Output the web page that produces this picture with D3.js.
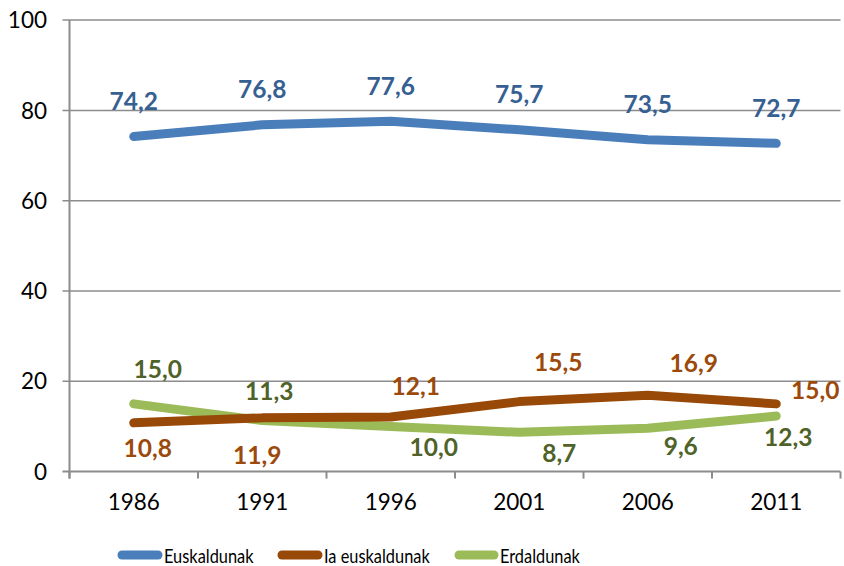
<!DOCTYPE html>
<html>
<head>
<meta charset="utf-8">
<script src="https://cdn.jsdelivr.net/npm/d3@7/dist/d3.min.js"></script>
<style>
  html, body { margin: 0; padding: 0; background: #fff; }
  svg { display: block; font-family: Lato, "Open Sans", sans-serif; }
</style>
</head>
<body>
<svg id="chart" width="844" height="566"></svg>
<script>
// ---- data ----
const years = ["1986", "1991", "1996", "2001", "2006", "2011"];
const euskaldunak = [74.2, 76.8, 77.6, 75.7, 73.5, 72.7];
const iaEuskaldunak = [10.8, 11.9, 12.1, 15.5, 16.9, 15.0];
const erdaldunak = [15.0, 11.3, 10.0, 8.7, 9.6, 12.3];
const seriesNames = ["Euskaldunak", "Ia euskaldunak", "Erdaldunak"];
const yTicks = [0, 20, 40, 60, 80, 100];

// ---- layout / style ----
const lineColors = ["#4A7EBB", "#984807", "#9BBB59"];
const labelColors = ["#376092", "#9C4A0C", "#4F6228"];
// per-label nudges (px) relative to the point: [dx, dy of baseline]
const labelOffsets = [
  [[0, -26.5], [0, -26.5], [0, -26.5], [0, -26.5], [0, -26.5], [0, -26.5]],
  [[14, 34], [-5, 46], [25, -22], [39, -31], [46, -23], [39, -5]],
  [[24, -26], [7, -20.5], [43, 29.5], [40, 30], [33, 27], [12, 30]]
];

const svg = d3.select("#chart");
const pLeft = 69.5, pRight = 840.5, pTop = 20.1, pBottom = 471.6;

const x = d3.scaleBand().domain(years).range([pLeft, pRight]).paddingInner(0).paddingOuter(0);
const cx = d => x(d) + x.bandwidth() / 2;
const y = d3.scaleLinear().domain([0, 100]).range([pBottom, pTop]);

const gridColor = "#8C8C8C";

// gridlines + y ticks
const grid = svg.append("g");
yTicks.forEach(t => {
  if (t === 0) return;
  grid.append("line")
    .attr("x1", pLeft - 7).attr("x2", pRight)
    .attr("y1", y(t)).attr("y2", y(t))
    .attr("stroke", gridColor).attr("stroke-width", 1.5);
});
yTicks.forEach(t => {
  svg.append("text")
    .attr("x", 47).attr("y", y(t))
    .attr("dy", "0.36em")
    .attr("text-anchor", "end")
    .attr("font-size", 22.5)
    .attr("fill", "#000")
    .text(t);
});

// axes
svg.append("line").attr("x1", pLeft).attr("x2", pLeft).attr("y1", pTop).attr("y2", pBottom + 7)
  .attr("stroke", gridColor).attr("stroke-width", 2);
svg.append("line").attr("x1", pLeft - 7).attr("x2", pRight).attr("y1", pBottom).attr("y2", pBottom)
  .attr("stroke", gridColor).attr("stroke-width", 2);
const boundaries = years.map(d => x(d)).concat([x(years[years.length - 1]) + x.bandwidth()]);
boundaries.forEach(b => {
  svg.append("line").attr("x1", b).attr("x2", b).attr("y1", pBottom).attr("y2", pBottom + 7)
    .attr("stroke", gridColor).attr("stroke-width", 2);
});
years.forEach(yr => {
  svg.append("text")
    .attr("x", cx(yr)).attr("y", 510)
    .attr("text-anchor", "middle")
    .attr("font-size", 22.5)
    .attr("fill", "#000")
    .text(yr);
});

// lines
const allSeries = [euskaldunak, iaEuskaldunak, erdaldunak];
const line = d3.line().x((d, i) => cx(years[i])).y(d => y(d));
[0, 2, 1].forEach(si => {
  svg.append("path")
    .attr("d", line(allSeries[si]))
    .attr("fill", "none")
    .attr("stroke", lineColors[si])
    .attr("stroke-width", 9)
    .attr("stroke-linecap", "round")
    .attr("stroke-linejoin", "round");
});

// data labels
const fmt = v => v.toFixed(1).replace(".", ",");
allSeries.forEach((vals, si) => {
  vals.forEach((v, i) => {
    const off = labelOffsets[si][i];
    svg.append("text")
      .attr("x", cx(years[i]) + off[0])
      .attr("y", y(v) + off[1])
      .attr("text-anchor", "middle")
      .attr("font-size", 24.5)
      .attr("font-weight", "bold")
      .attr("fill", labelColors[si])
      .text(fmt(v));
  });
});

// legend
const legendItems = [
  { x1: 118, x2: 162, tx: 164 },
  { x1: 278, x2: 322, tx: 324 },
  { x1: 455, x2: 498, tx: 500 }
];
legendItems.forEach((li, i) => {
  svg.append("line")
    .attr("x1", li.x1 + 4).attr("x2", li.x2 - 4).attr("y1", 555).attr("y2", 555)
    .attr("stroke", lineColors[i]).attr("stroke-width", 9).attr("stroke-linecap", "round");
  svg.append("text")
    .attr("transform", `translate(${li.tx},562.5) scale(0.84,1)`)
    .attr("font-size", 19.5)
    .attr("fill", "#000")
    .text(seriesNames[i]);
});
</script>
</body>
</html>
